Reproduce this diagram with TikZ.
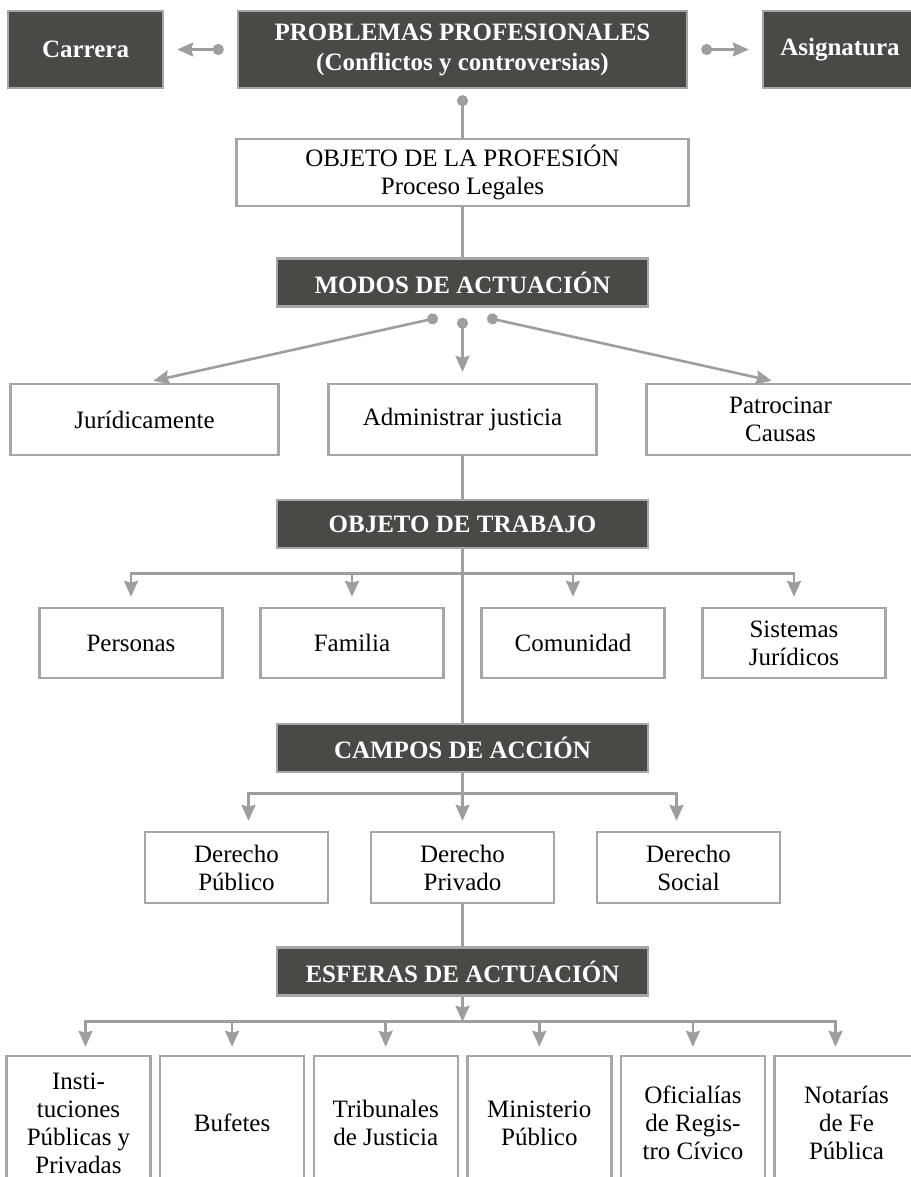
\documentclass[tikz,border=0pt]{standalone}
\usepackage{fontspec}
\setmainfont{Liberation Serif}
\usepackage{tikz}
\usetikzlibrary{arrows.meta}
\usetikzlibrary{positioning}

\definecolor{headfill}{RGB}{74,73,70}
\definecolor{edgegray}{RGB}{166,166,166}
\definecolor{linegray}{RGB}{158,158,158}

\begin{document}
\begin{tikzpicture}
	[line width=1.3pt,
	every node/.style = {font=\fontsize{12.5}{14}\selectfont, align=center, inner sep=2pt},
	head/.style = {draw=edgegray, fill=headfill, text=white, font=\fontsize{12.5}{15}\selectfont\bfseries, line width=1.2pt, minimum width=185.5pt, minimum height=24pt},
	box/.style = {draw=edgegray, fill=white, line width=1.2pt},
	wide/.style = {box, minimum width=134pt, minimum height=35.5pt},
	mid/.style = {box, minimum width=91.5pt, minimum height=35.5pt},
	low/.style = {box, minimum width=72pt, minimum height=67pt},
	link/.style = {draw=linegray},
	arr/.style = {link, -{Stealth[length=8pt, width=7pt, inset=1pt]}},
	dotarr/.style = {link, {Circle[length=5.5pt]}-{Stealth[length=8pt, width=7pt, inset=1pt]}}]
	\useasboundingbox (0,0) rectangle (455pt,-588.5pt);
	\node[head, minimum width=224.5pt, minimum height=38.5pt] (prob) at (231.25pt,-24.75pt) {PROBLEMAS PROFESIONALES\\(Conflictos y controversias)};
	\node[head, minimum width=77.5pt, minimum height=38.5pt] (car) [node distance=188.5pt, left of=prob] {Carrera};
	\node[head, minimum width=77pt, minimum height=38.5pt] (asig) [node distance=188.75pt, right of=prob] {Asignatura};
	\node[box, minimum width=226pt, minimum height=33.5pt] (objprof) [node distance=61.5pt, below of=prob] {OBJETO DE LA PROFESIÓN\\Proceso Legales};
	\node[head] (modos) [node distance=55pt, below of=objprof] {MODOS DE ACTUACIÓN};
	\node[wide] (adm) [node distance=68.5pt, below of=modos] {Administrar justicia};
	\node[wide] (jur) [node distance=159pt, left of=adm] {Jurídicamente};
	\node[wide] (pat) [node distance=159pt, right of=adm] {Patrocinar\\Causas};
	\node[head] (trab) [node distance=52.25pt, below of=adm] {OBJETO DE TRABAJO};
	\node[mid, minimum height=35pt] (fam) at ([shift={(-55.25pt,-59.5pt)}]trab.center) {Familia};
	\node[mid, minimum height=35pt] (per) [node distance=110.5pt, left of=fam] {Personas};
	\node[mid, minimum height=35pt] (com) [node distance=110.5pt, right of=fam] {Comunidad};
	\node[mid, minimum height=35pt] (sis) [node distance=110.5pt, right of=com] {Sistemas\\Jurídicos};
	\node[head] (campos) [node distance=112pt, below of=trab] {CAMPOS DE ACCIÓN};
	\node[mid] (priv) [node distance=59.75pt, below of=campos] {Derecho\\Privado};
	\node[mid] (pub) [node distance=113pt, left of=priv] {Derecho\\Público};
	\node[mid] (soc) [node distance=113pt, right of=priv] {Derecho\\Social};
	\node[head] (esf) [node distance=52pt, below of=priv] {ESFERAS DE ACTUACIÓN};
	\node[low] (b3) at ([shift={(-38.4pt,-75.75pt)}]esf.center) {Tribunales\\de Justicia};
	\node[low] (b2) [node distance=76.8pt, left of=b3] {Bufetes};
	\node[low] (b1) [node distance=76.8pt, left of=b2] {Insti-\\tuciones\\Públicas y\\Privadas};
	\node[low] (b4) [node distance=76.8pt, right of=b3] {Ministerio\\Público};
	\node[low] (b5) [node distance=76.8pt, right of=b4] {Oficialías\\de Regis-\\tro Cívico};
	\node[low] (b6) [node distance=76.8pt, right of=b5] {Notarías\\de Fe\\Pública};
	% top row
	\draw[dotarr, shorten <=6.5pt, shorten >=6.5pt] (prob) -- (car);
	\draw[dotarr, shorten <=6.5pt, shorten >=6.5pt] (prob) -- (asig);
	\draw[link, {Circle[length=5.5pt]}-, shorten <=3pt] (prob) -- (objprof);
	\draw[link] (objprof) -- (modos);
	% modos de actuacion
	\coordinate (mL) at ([shift={(-12.3pt,-5pt)}]modos.south);
	\coordinate (mR) at ([shift={(12.3pt,-5pt)}]modos.south);
	\draw[dotarr, shorten >=4.5pt] (mL) -- (jur.north);
	\draw[dotarr, shorten <=5pt, shorten >=5.5pt] (modos) -- (adm);
	\draw[dotarr, shorten >=4.5pt] (mR) -- (pat.north);
	\draw[link] (adm) -- (trab);
	\draw[link] (trab) -- (campos);
	% objeto de trabajo
	\coordinate (t2) at ([yshift=-12pt]trab.south);
	\draw[link, line cap=rect] (t2 -| per) -- (t2 -| sis);
	\foreach \n in {per,fam,com,sis}
		\draw[arr, shorten >=5pt] (t2 -| \n) -- (\n);
	% campos de accion
	\coordinate (c3) at ([yshift=-10pt]campos.south);
	\coordinate (pubIn) at ([xshift=6pt]pub.north);
	\coordinate (socIn) at ([xshift=-6pt]soc.north);
	\draw[link, line cap=rect] (c3 -| pubIn) -- (c3 -| socIn);
	\draw[arr, shorten >=5pt] (campos) -- (priv);
	\draw[arr, shorten >=5pt] (c3 -| pubIn) -- (pubIn);
	\draw[arr, shorten >=5pt] (c3 -| socIn) -- (socIn);
	\draw[link] (priv) -- (esf);
	% esferas de actuacion
	\coordinate (e4) at ([yshift=-12.5pt]esf.south);
	\coordinate (b1In) at ([xshift=3.5pt]b1.north);
	\coordinate (b6In) at ([xshift=-5.5pt]b6.north);
	\draw[arr] (esf) -- (e4);
	\draw[link, line cap=rect] (e4 -| b1In) -- (e4 -| b6In);
	\draw[arr, shorten >=4pt] (e4 -| b1In) -- (b1In);
	\foreach \n in {2,...,5}
		\draw[arr, shorten >=4pt] (e4 -| b\n) -- (b\n);
	\draw[arr, shorten >=4pt] (e4 -| b6In) -- (b6In);
\end{tikzpicture}
\end{document}
